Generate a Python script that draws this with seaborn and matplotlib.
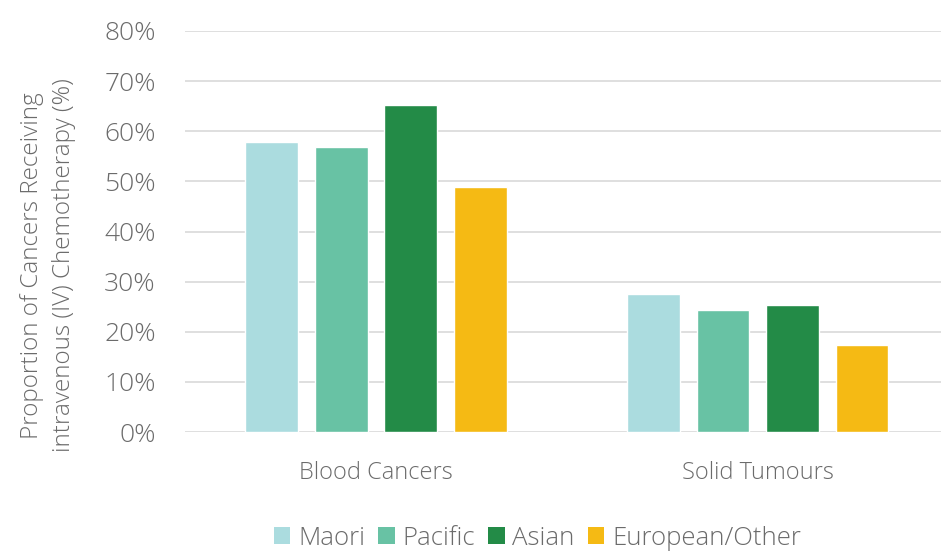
import matplotlib
matplotlib.use("Agg")
import matplotlib.pyplot as plt
import seaborn as sns
import pandas as pd
from matplotlib.ticker import FuncFormatter
from matplotlib.patches import Patch

categories = ["Blood Cancers", "Solid Tumours"]
groups = ["Maori", "Pacific", "Asian", "European/Other"]
maori = [57.8, 27.5]
pacific = [56.9, 24.3]
asian = [65.3, 25.3]
european = [48.9, 17.3]
y_ticks = [0, 10, 20, 30, 40, 50, 60, 70, 80]
colors = ["#ABDCDF", "#68C2A4", "#238B47", "#F5BA14"]

rows = []
for g, vals in zip(groups, [maori, pacific, asian, european]):
    for c, v in zip(categories, vals):
        rows.append({"category": c, "group": g, "value": v})
df = pd.DataFrame(rows)

sns.set_theme(style="white")
plt.rcParams["font.family"] = ["Open Sans", "DejaVu Sans"]
text_color = "#6b6b6b"

fig = plt.figure(figsize=(9.41, 5.53), dpi=100)
ax = fig.add_axes([185 / 941, 121 / 553, 756 / 941, 401 / 553])

sns.barplot(data=df, x="category", y="value", hue="group", hue_order=groups,
            order=categories, palette=colors, width=0.728, gap=0.24,
            saturation=1, legend=False, ax=ax)

ax.set_ylim(0, 80)
ax.set_xlim(-0.5, 1.48)
ax.set_yticks(y_ticks)
ax.yaxis.set_major_formatter(FuncFormatter(lambda v, p: f"{v:.0f}%"))
ax.grid(axis="y", color="#d9d9d9", linewidth=1.2)
ax.set_axisbelow(True)
for s in ax.spines.values():
    s.set_visible(False)
ax.tick_params(axis="both", length=0, labelcolor=text_color)
ax.tick_params(axis="y", pad=21, labelsize=19)
ax.tick_params(axis="x", pad=21, labelsize=17)
for lbl in ax.get_xticklabels() + ax.get_yticklabels():
    lbl.set_fontweight("light")
ax.set_xlabel("")
ax.set_ylabel("")

fig.text(0.051, 0.52,
         "Proportion of Cancers Receiving\nintravenous (IV) Chemotherapy (%)",
         rotation=90, ha="center", va="center", fontsize=17.5,
         color=text_color, fontweight="light", linespacing=1.45)

handles = [Patch(facecolor=c, edgecolor="none") for c in colors]
fig.legend(handles, groups, loc="center", bbox_to_anchor=(0.571, 0.027),
           ncol=4, frameon=False, labelcolor=text_color,
           handlelength=0.65, handleheight=0.65, handletextpad=0.3,
           columnspacing=0.5, prop={"weight": "light", "size": 18.5})

fig.savefig("out.png", dpi=100, facecolor="white")
